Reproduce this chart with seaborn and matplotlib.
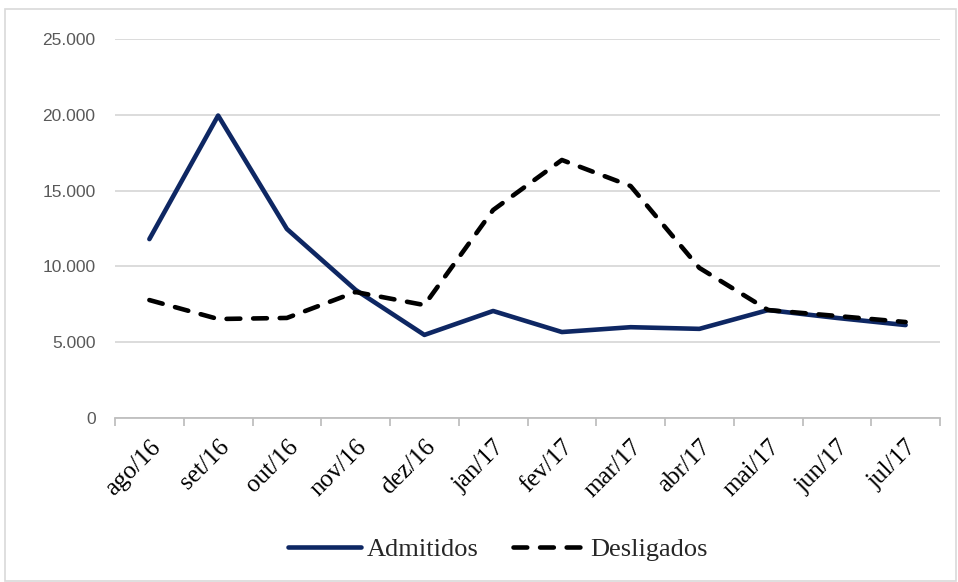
import matplotlib
matplotlib.use("Agg")
import matplotlib.pyplot as plt
import seaborn as sns
import pandas as pd
from matplotlib.patches import Rectangle
from matplotlib.ticker import FuncFormatter, FixedLocator
from matplotlib.lines import Line2D

months = ["ago/16", "set/16", "out/16", "nov/16", "dez/16", "jan/17",
          "fev/17", "mar/17", "abr/17", "mai/17", "jun/17", "jul/17"]
admitidos = [11800, 19950, 12470, 8450, 5480, 7060, 5670, 5990, 5880, 7120, 6600, 6130]
desligados = [7780, 6530, 6600, 8310, 7450, 13720, 17020, 15300, 9900, 7120, 6730, 6330]
y_ticks = [0, 5000, 10000, 15000, 20000, 25000]

df = pd.DataFrame({"Mês": months * 2,
                   "Valor": admitidos + desligados,
                   "Série": ["Admitidos"] * len(months) + ["Desligados"] * len(months)})

sns.set_theme(style="white")
plt.rcParams["font.family"] = ["Liberation Serif", "DejaVu Serif"]

NAVY = "#0E2763"
LW = 3.3
DASH = (3.0, 2.8)

fig = plt.figure(figsize=(9.58, 5.82), dpi=100)
ax = fig.add_axes([115/958, 1-418/582, (940-115)/958, (418-39)/582])

sns.lineplot(data=df, x="Mês", y="Valor", hue="Série", style="Série",
             palette={"Admitidos": NAVY, "Desligados": "#000000"},
             dashes={"Admitidos": "", "Desligados": DASH},
             linewidth=LW, sort=False, ax=ax, legend=False)
for ln in ax.get_lines():
    ln.set_solid_capstyle("round")
    ln.set_dash_capstyle("round")
    ln.set_solid_joinstyle("round")

ax.set_xlim(-0.5, len(months) - 0.5)
ax.set_ylim(0, 25000)
ax.set_yticks(y_ticks)
ax.yaxis.set_major_formatter(FuncFormatter(lambda v, p: f"{int(v):,}".replace(",", ".")))
ax.grid(axis="y", color="#D9D9D9", linewidth=1.3)
ax.set_axisbelow(True)
for s in ["top", "right", "left"]:
    ax.spines[s].set_visible(False)
ax.spines["bottom"].set_color("#BFBFBF")
ax.spines["bottom"].set_linewidth(1.3)
ax.set_xlabel("")
ax.set_ylabel("")

ax.set_xticks(range(len(months)))
ax.set_xticklabels(months, rotation=45, ha="right", rotation_mode="anchor",
                   fontsize=18, color="#000000")
ax.xaxis.set_minor_locator(FixedLocator([i - 0.5 for i in range(len(months) + 1)]))
ax.tick_params(axis="x", which="major", length=0, pad=13)
ax.tick_params(axis="x", which="minor", length=6, color="#BFBFBF", width=1.3, bottom=True)
ax.tick_params(axis="y", length=0, pad=14)
for t in ax.get_yticklabels():
    t.set_family(["Liberation Sans Narrow", "Liberation Sans"])
    t.set_fontsize(12.5)
    t.set_color("#595959")

handles = [Line2D([], [], color=NAVY, lw=LW, solid_capstyle="round"),
           Line2D([], [], color="#000000", lw=LW, dashes=DASH, dash_capstyle="round")]
fig.legend(handles, ["Admitidos", "Desligados"], loc="center",
           bbox_to_anchor=(0.52, 1-549/582), ncol=2, frameon=False,
           fontsize=19, handlelength=2.75, handletextpad=0.2, columnspacing=1.3)

fig.patches.append(Rectangle((5/958, 1/582), 951/958, 572/582, transform=fig.transFigure,
                             fill=False, edgecolor="#D9D9D9", linewidth=1.2))

fig.savefig("out.png", dpi=100)
